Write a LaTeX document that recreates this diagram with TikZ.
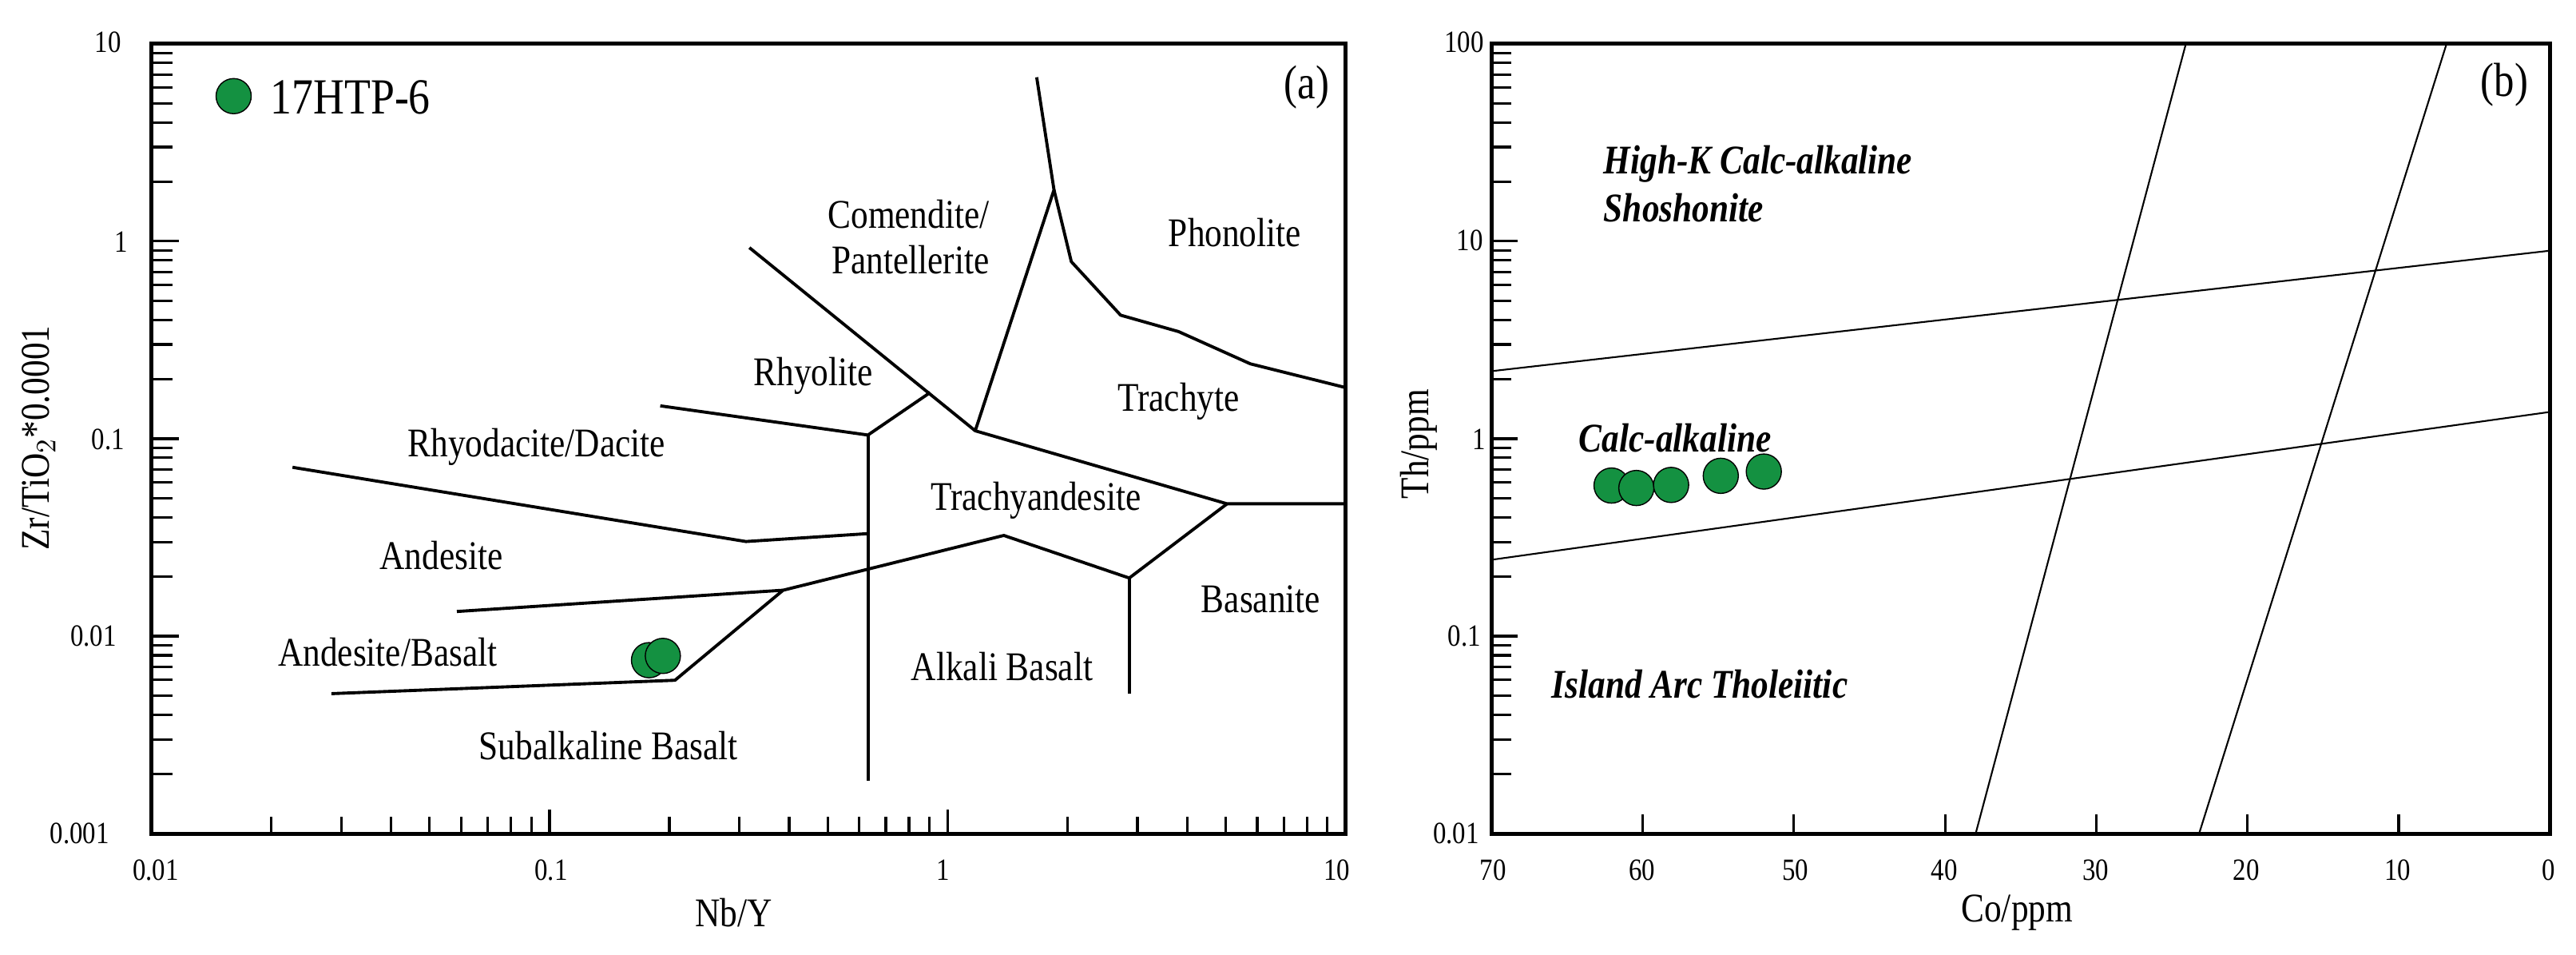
\documentclass[tikz,border=0pt]{standalone}
\usepackage{fontspec}
\setmainfont{Liberation Serif}[FakeStretch=0.85]
\definecolor{dotg}{RGB}{20,145,65}
\begin{document}
\begin{tikzpicture}
\tikzset{frame/.style={line width=1.4pt},bnd/.style={line width=1.1pt},thin/.style={line width=0.6pt},
lbl/.style={font=\fontsize{14.5}{16}\selectfont,inner sep=0pt},
tl/.style={font=\fontsize{11}{13}\selectfont,inner sep=0pt},
bl/.style={font=\fontsize{14.5}{16}\selectfont\bfseries\itshape,inner sep=0pt,anchor=west},
dot/.style={fill=dotg,draw=black,line width=0.4pt}}
\useasboundingbox (0,0) rectangle (32.25,11.94);
% ---------- panel a
\begin{scope}[shift={(0,11.94)},x=0.01084cm,y=-0.00761cm]
\draw[frame] (175,72) rectangle (1555,1370);
\foreach \d in {0,1,2}{
  \foreach \m in {1,...,9}{
    \pgfmathsetmacro\xx{175+460*(\d+ln(\m)/ln(10))}
    \pgfmathsetmacro\len{\m==1?40:28}
    \draw[line width=0.9pt] (\xx,1370) -- ++(0,-\len);}}
\foreach \d in {0,1,2,3}{
  \foreach \m in {1,...,9}{
    \pgfmathsetmacro\yy{1370-324.5*(\d+ln(\m)/ln(10))}
    \pgfmathsetmacro\len{\m==1?32:24}
    \draw[line width=0.9pt] (175,\yy) -- ++(\len,0);}}
\node[tl] (ya) at (125,70) {10};
\node[tl] (yb) at (140,398) {1};
\node[tl] (yc) at (125,722) {0.1};
\node[tl] (yd) at (108,1045) {0.01};
\node[tl] (ye) at (92,1370) {0.001};
\node[tl] (xa) at (180,1430) {0.01};
\node[tl] (xb) at (637,1430) {0.1};
\node[tl] (xc) at (1090,1430) {1};
\node[tl] (xd) at (1545,1430) {10};
\node[lbl] (xl) at (848,1500) {Nb/Y};
\node[lbl,rotate=90] (yl) at (45,720) {Zr/TiO$_2$*0.0001};
\draw[bnd,line join=round] (866,407) -- (1127,708) -- (1218,312) -- (1198,127);
\draw[bnd,line join=round] (1218,312) -- (1238,430) -- (1295,518) -- (1362,545) -- (1445,598) -- (1555,637);
\draw[bnd,line join=round] (763,667) -- (1003,715) -- (1075,645);
\draw[bnd] (1003,715) -- (1003,1283);
\draw[bnd,line join=round] (1127,708) -- (1418,828) -- (1555,828);
\draw[bnd,line join=round] (1418,828) -- (1305,950) -- (1160,880) -- (905,970) -- (780,1118) -- (383,1140);
\draw[bnd] (1305,950) -- (1305,1140);
\draw[bnd] (528,1005) -- (905,970);
\draw[bnd,line join=round] (338,768) -- (862,890) -- (1003,877);
\node[lbl] (n1) at (1050,352) {Comendite/};
\node[lbl] (n2) at (1052,427) {Pantellerite};
\node[lbl] (n3) at (1427,382) {Phonolite};
\node[lbl] (n4) at (940,618) {Rhyolite};
\node[lbl] (n5) at (1362,660) {Trachyte};
\node[lbl] (n6) at (620,735) {Rhyodacite/Dacite};
\node[lbl] (n7) at (1197,822) {Trachyandesite};
\node[lbl] (n8) at (510,913) {Andesite};
\node[lbl] (n9) at (1457,985) {Basanite};
\node[lbl] (n10) at (448,1072) {Andesite/Basalt};
\node[lbl] (n11) at (1158,1095) {Alkali Basalt};
\node[lbl] (n12) at (703,1225) {Subalkaline Basalt};
\node[font=\fontsize{17}{19}\selectfont,inner sep=0pt] (pa) at (1510,143) {(a)};
\draw[dot] (750,1085) circle[radius=0.22cm];
\draw[dot] (766,1078) circle[radius=0.22cm];
\draw[dot] (270,158) circle[radius=0.22cm];
\node[font=\fontsize{18}{20}\selectfont,inner sep=0pt,anchor=west] (leg) at (312,160) {17HTP-6};
\end{scope}
% ---------- panel b
\begin{scope}[shift={(16,11.94)},x=0.01036cm,y=-0.00761cm]
\draw[frame] (258,72) rectangle (1537,1370);
\foreach \k in {1,...,6}{
  \draw[line width=0.9pt] ({258+182.7*\k},1370) -- ++(0,-32);}
\foreach \d in {0,1,2,3}{
  \foreach \m in {1,...,9}{
    \pgfmathsetmacro\yy{1370-324.5*(\d+ln(\m)/ln(10))}
    \pgfmathsetmacro\len{\m==1?32:24}
    \draw[line width=0.9pt] (258,\yy) -- ++(\len,0);}}
\node[tl] (b1) at (225,70) {100};
\node[tl] (b2) at (232,395) {10};
\node[tl] (b3) at (243,722) {1};
\node[tl] (b4) at (225,1045) {0.1};
\node[tl] (b5) at (215,1370) {0.01};
\foreach \v/\px in {70/260,60/440,50/625,40/805,30/988,20/1170,10/1353,0/1535}
  \node[tl] (c\v) at (\px,1430) {\v};
\node[lbl] (bxl) at (893,1500) {Co/ppm};
\node[lbl,rotate=90] (byl) at (170,730) {Th/ppm};
\draw[thin] (258,610) -- (1537,412);
\draw[thin] (258,920) -- (1537,677);
\draw[thin] (843,1370) -- (1097,72);
\draw[thin] (1113,1370) -- (1412,72);
\node[bl] (m1) at (393,270) {High-K Calc-alkaline};
\node[bl] (m2) at (393,342) {Shoshonite};
\node[bl] (m3) at (363,720) {Calc-alkaline};
\node[bl] (m4) at (330,1125) {Island Arc Tholeiitic};
\node[font=\fontsize{17}{19}\selectfont,inner sep=0pt] (pb) at (1482,140) {(b)};
\foreach \px/\py in {403/798,433/802,475/797,535/782,587/775}
  \draw[dot] (\px,\py) circle[radius=0.22cm];
\end{scope}
\end{tikzpicture}
\end{document}
